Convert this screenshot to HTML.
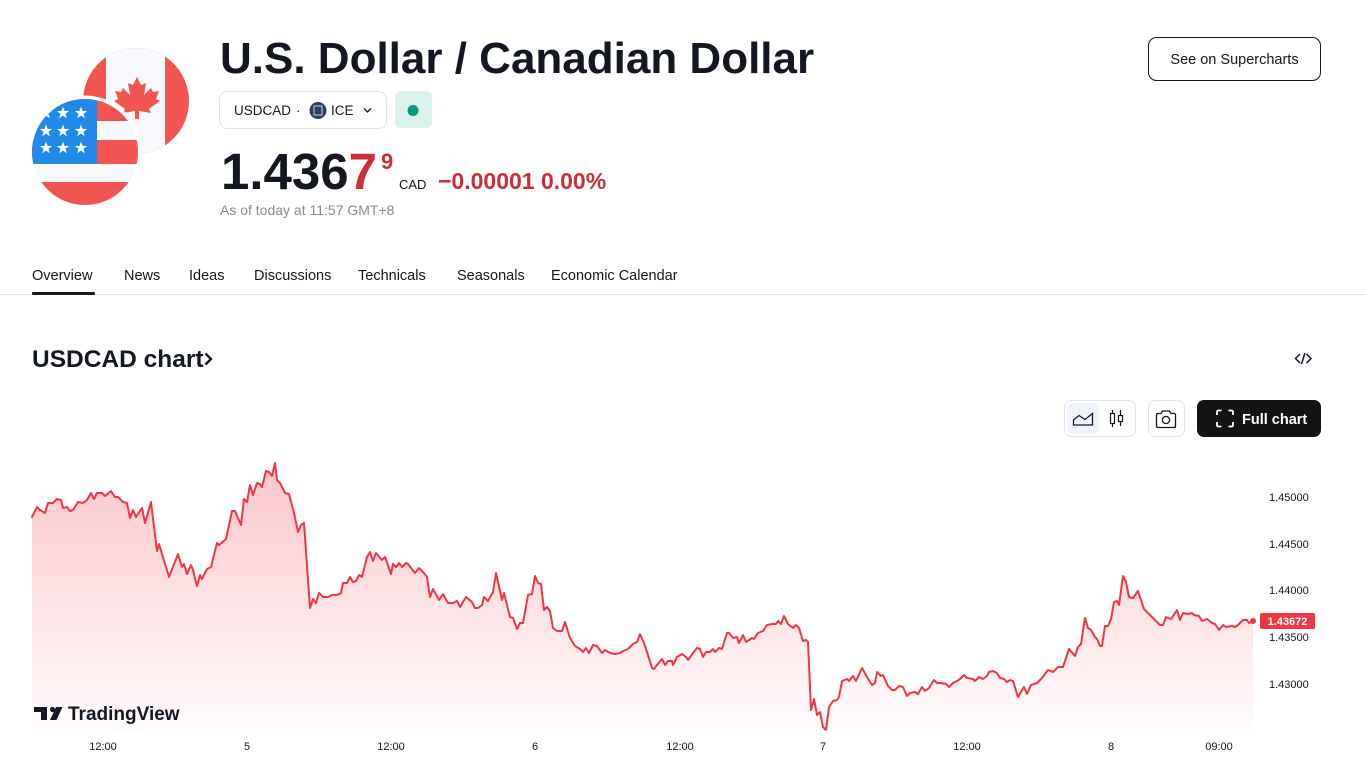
<!DOCTYPE html>
<html>
<head>
<meta charset="utf-8">
<style>
html,body{margin:0;padding:0;background:#fff;}
body{width:1365px;height:778px;overflow:hidden;}
svg{display:block;}
text{font-family:"Liberation Sans", sans-serif;}
</style>
</head>
<body>
<svg width="1365" height="778" viewBox="0 0 1365 778" xmlns="http://www.w3.org/2000/svg">
<defs>
  <clipPath id="caClip"><circle cx="136" cy="101" r="53"/></clipPath>
  <clipPath id="usClip"><circle cx="85" cy="152" r="53"/></clipPath>
  <polygon id="star" points="0,-6.5 1.53,-2.1 6.18,-2.01 2.47,0.8 3.82,5.26 0,2.6 -3.82,5.26 -2.47,0.8 -6.18,-2.01 -1.53,-2.1" fill="#ffffff"/>
  <linearGradient id="areaGrad" gradientUnits="userSpaceOnUse" x1="0" y1="463" x2="0" y2="730">
    <stop offset="0" stop-color="#f23645" stop-opacity="0.28"/>
    <stop offset="1" stop-color="#f23645" stop-opacity="0.02"/>
  </linearGradient>
</defs>

<!-- Canada flag -->
<g clip-path="url(#caClip)">
  <rect x="80" y="45" width="112" height="112" fill="#f05552"/>
  <rect x="106" y="45" width="59" height="112" fill="#f7f8fc"/>
  <polygon fill="#f05552" points="137,77 141,85 146,83 144,95 151,88 153,92 159,91 156,99 160,101 149,109 151,113 139,111 139,119 135,119 135,111 123,113 125,109 114,101 118,99 115,91 121,92 123,88 130,95 128,83 133,85"/>
</g>
<!-- US flag -->
<circle cx="85" cy="152" r="56.5" fill="#ffffff"/>
<g clip-path="url(#usClip)">
  <rect x="30" y="98" width="110" height="23" fill="#f05552"/>
  <rect x="30" y="121" width="110" height="19" fill="#f7f8fc"/>
  <rect x="30" y="140" width="110" height="24" fill="#f05552"/>
  <rect x="30" y="164" width="110" height="18" fill="#f7f8fc"/>
  <rect x="30" y="182" width="110" height="26" fill="#f05552"/>
  <rect x="30" y="98" width="67" height="66" fill="#2189e6"/>
  <use href="#star" x="46" y="113"/>
  <use href="#star" x="63" y="113"/>
  <use href="#star" x="81" y="113"/>
  <use href="#star" x="46" y="131"/>
  <use href="#star" x="63" y="131"/>
  <use href="#star" x="81" y="131"/>
  <use href="#star" x="46" y="148"/>
  <use href="#star" x="63" y="148"/>
  <use href="#star" x="81" y="148"/>
</g>

<!-- Title -->
<text x="220" y="73" font-size="44" font-weight="bold" fill="#131722">U.S. Dollar / Canadian Dollar</text>

<!-- Symbol pill -->
<rect x="219.5" y="91.5" width="167" height="37" rx="8" fill="#fff" stroke="#e0e3eb"/>
<text x="234" y="115" font-size="13.5" fill="#131722">USDCAD</text>
<text x="296" y="115" font-size="13.5" fill="#131722">·</text>
<circle cx="318" cy="110.5" r="8.5" fill="#2e3d63"/>
<rect x="314" y="106" width="8" height="9" fill="none" stroke="#c9d2ea" stroke-width="1"/>
<text x="331" y="115" font-size="13.5" fill="#131722">ICE</text>
<path d="M364,108.5 L367.5,112 L371,108.5" fill="none" stroke="#131722" stroke-width="1.3"/>
<rect x="395" y="91" width="37" height="37" rx="6" fill="#daf1ec"/>
<circle cx="413" cy="110.5" r="5.5" fill="#089981"/>

<!-- Price -->
<text x="221" y="189" font-size="51" font-weight="bold" fill="#131722">1.436<tspan fill="#cc2f3c">7</tspan></text>
<text x="381" y="169" font-size="22" font-weight="bold" fill="#cc2f3c">9</text>
<text x="399" y="189" font-size="13" fill="#131722">CAD</text>
<text x="438" y="189" font-size="23" font-weight="bold" fill="#cc2f3c">−0.00001 0.00%</text>
<text x="220" y="215" font-size="14" fill="#868993">As of today at 11:57 GMT+8</text>

<!-- See on Supercharts -->
<rect x="1148.5" y="37.5" width="172" height="43" rx="8" fill="#fff" stroke="#131722" stroke-width="1"/>
<text x="1234.5" y="64" font-size="14.5" fill="#131722" text-anchor="middle">See on Supercharts</text>

<!-- Tabs -->
<g font-size="14.5" fill="#131722">
  <text x="32" y="280">Overview</text>
  <text x="124" y="280">News</text>
  <text x="189" y="280">Ideas</text>
  <text x="254" y="280">Discussions</text>
  <text x="358" y="280">Technicals</text>
  <text x="457" y="280">Seasonals</text>
  <text x="551" y="280">Economic Calendar</text>
</g>
<rect x="0" y="294" width="1365" height="1" fill="#e0e3eb"/>
<rect x="32" y="292" width="63" height="3" rx="1" fill="#131722"/>

<!-- Section header -->
<text x="32" y="367" font-size="24.5" font-weight="bold" fill="#131722">USDCAD chart</text>
<path d="M205.5,353.5 L211,359 L205.5,364.5" fill="none" stroke="#131722" stroke-width="2.4"/>
<path d="M1300,354 L1295.5,358.5 L1300,363 M1305,353 L1301.5,364 M1306.5,354 L1311,358.5 L1306.5,363" fill="none" stroke="#131722" stroke-width="1.5"/>

<!-- Toolbar -->
<rect x="1064.5" y="400.5" width="71" height="36" rx="7" fill="#fff" stroke="#e0e3eb"/>
<rect x="1067" y="403" width="32" height="31" rx="5" fill="#f0f3fa"/>
<path d="M1073.5,425 L1073.5,420 L1079,415.5 L1085,419.5 L1092.5,413.5 L1092.5,425 Z" fill="none" stroke="#131722" stroke-width="1.3"/>
<path d="M1112.5,410 L1112.5,427 M1120.5,410 L1120.5,426" stroke="#131722" stroke-width="1.2"/>
<rect x="1110.5" y="413.5" width="4" height="10" fill="#fff" stroke="#131722" stroke-width="1.2"/>
<rect x="1118.5" y="415.5" width="4" height="6" fill="#fff" stroke="#131722" stroke-width="1.2"/>
<rect x="1148.5" y="400.5" width="36" height="36" rx="7" fill="#fff" stroke="#e0e3eb"/>
<path d="M1156.5,415 Q1156.5,413.5 1158,413.5 L1161,413.5 L1162.5,411 L1169.5,411 L1171,413.5 L1174,413.5 Q1175.5,413.5 1175.5,415 L1175.5,426 Q1175.5,427.5 1174,427.5 L1158,427.5 Q1156.5,427.5 1156.5,426 Z" fill="none" stroke="#131722" stroke-width="1.3"/>
<circle cx="1166" cy="420" r="3.6" fill="none" stroke="#131722" stroke-width="1.3"/>
<rect x="1197" y="400" width="124" height="37" rx="7" fill="#131313"/>
<path d="M1217,415 L1217,412 Q1217,410.5 1218.5,410.5 L1221.5,410.5 M1228.5,410.5 L1231.5,410.5 Q1233,410.5 1233,412 L1233,415 M1233,422 L1233,425 Q1233,426.5 1231.5,426.5 L1228.5,426.5 M1221.5,426.5 L1218.5,426.5 Q1217,426.5 1217,425 L1217,422" fill="none" stroke="#ffffff" stroke-width="1.8"/>
<text x="1242" y="424" font-size="14.5" font-weight="bold" fill="#ffffff">Full chart</text>

<!-- Chart area -->
<polygon fill="url(#areaGrad)" points="32,730 32,517 37,507 40,510 45,513 48,503 53,503 57,499 61,500 63,508 67,507 70,511 73,510 78,502 83,503 87,500 91,493 94,499 97,493 102,493 105,496 111,491 115,497 118,497 123,502 127,503 130,518 133,510 136,517 142,508 145,523 151,502 157,551 159,544 169,577 178,554 182,567 184,564 187,574 191,565 193,570 197,586 200,575 202,579 207,569 211,567 217,543 219,545 226,539 232,511 235,511 241,525 244,499 247,502 250,485 253,495 257,483 260,484 262,487 266,471 269,472 272,476 275,463 277,480 280,483 285,493 289,494 294,513 298,532 301,525 304,523 310,608 313,599 316,603 319,593 323,597 328,597 332,595 337,595 341,593 343,583 347,583 350,577 353,582 356,581 359,575 362,577 367,557 370,552 373,561 376,553 382,560 385,557 391,574 393,564 396,567 399,563 402,567 406,563 408,564 415,573 419,568 423,572 427,577 430,597 433,589 439,600 443,594 448,603 453,603 457,601 460,607 466,597 472,602 475,608 478,608 482,605 484,597 488,601 493,592 496,573 502,600 504,593 510,617 513,618 517,629 520,623 523,623 528,595 532,594 535,576 538,583 541,584 544,610 547,607 550,611 553,628 557,631 562,631 565,622 570,638 575,646 580,649 583,652 586,648 589,653 593,645 597,646 602,653 605,650 610,653 615,654 620,653 623,651 628,649 633,644 637,642 640,634 644,643 647,652 652,668 654,669 657,665 662,659 665,665 668,661 672,661 673,665 677,657 682,654 686,657 688,660 693,653 697,648 700,649 703,657 706,652 710,652 713,649 715,652 719,648 722,649 727,633 729,633 733,638 737,637 739,643 743,635 746,642 752,638 754,639 758,633 763,631 767,625 772,624 776,624 778,621 781,624 784,616 788,624 793,628 796,625 799,628 803,641 806,640 808,642 811,710 814,699 817,715 820,712 823,727 826,730 829,707 833,701 837,700 839,697 842,681 847,679 849,681 853,676 856,681 862,668 867,677 872,685 875,683 877,672 881,676 883,675 888,686 892,690 895,690 899,686 903,687 907,696 910,693 915,692 918,694 922,687 925,691 929,688 934,680 937,683 941,683 946,684 949,687 953,683 957,681 960,679 964,675 967,678 973,679 975,681 979,677 983,679 987,676 989,672 993,671 997,673 1000,678 1004,679 1007,682 1010,680 1013,681 1018,697 1024,687 1027,694 1031,685 1037,683 1042,678 1048,670 1053,672 1058,667 1063,667 1069,649 1075,656 1078,647 1081,644 1085,618 1088,628 1091,630 1095,637 1097,639 1100,646 1102,646 1105,626 1108,626 1111,619 1114,602 1117,601 1119,605 1123,576 1126,582 1129,597 1133,598 1138,591 1144,609 1153,618 1160,625 1163,625 1166,617 1171,619 1177,610 1180,620 1183,613 1188,614 1192,613 1194,615 1199,616 1202,621 1207,619 1212,623 1215,624 1219,630 1223,625 1226,627 1232,626 1235,627 1238,625 1243,620 1247,620 1249,623 1253,621 1253,730"/>
<polyline fill="none" stroke="#f23645" stroke-width="2" stroke-linejoin="round" stroke-linecap="round" points="32,517 37,507 40,510 45,513 48,503 53,503 57,499 61,500 63,508 67,507 70,511 73,510 78,502 83,503 87,500 91,493 94,499 97,493 102,493 105,496 111,491 115,497 118,497 123,502 127,503 130,518 133,510 136,517 142,508 145,523 151,502 157,551 159,544 169,577 178,554 182,567 184,564 187,574 191,565 193,570 197,586 200,575 202,579 207,569 211,567 217,543 219,545 226,539 232,511 235,511 241,525 244,499 247,502 250,485 253,495 257,483 260,484 262,487 266,471 269,472 272,476 275,463 277,480 280,483 285,493 289,494 294,513 298,532 301,525 304,523 310,608 313,599 316,603 319,593 323,597 328,597 332,595 337,595 341,593 343,583 347,583 350,577 353,582 356,581 359,575 362,577 367,557 370,552 373,561 376,553 382,560 385,557 391,574 393,564 396,567 399,563 402,567 406,563 408,564 415,573 419,568 423,572 427,577 430,597 433,589 439,600 443,594 448,603 453,603 457,601 460,607 466,597 472,602 475,608 478,608 482,605 484,597 488,601 493,592 496,573 502,600 504,593 510,617 513,618 517,629 520,623 523,623 528,595 532,594 535,576 538,583 541,584 544,610 547,607 550,611 553,628 557,631 562,631 565,622 570,638 575,646 580,649 583,652 586,648 589,653 593,645 597,646 602,653 605,650 610,653 615,654 620,653 623,651 628,649 633,644 637,642 640,634 644,643 647,652 652,668 654,669 657,665 662,659 665,665 668,661 672,661 673,665 677,657 682,654 686,657 688,660 693,653 697,648 700,649 703,657 706,652 710,652 713,649 715,652 719,648 722,649 727,633 729,633 733,638 737,637 739,643 743,635 746,642 752,638 754,639 758,633 763,631 767,625 772,624 776,624 778,621 781,624 784,616 788,624 793,628 796,625 799,628 803,641 806,640 808,642 811,710 814,699 817,715 820,712 823,727 826,730 829,707 833,701 837,700 839,697 842,681 847,679 849,681 853,676 856,681 862,668 867,677 872,685 875,683 877,672 881,676 883,675 888,686 892,690 895,690 899,686 903,687 907,696 910,693 915,692 918,694 922,687 925,691 929,688 934,680 937,683 941,683 946,684 949,687 953,683 957,681 960,679 964,675 967,678 973,679 975,681 979,677 983,679 987,676 989,672 993,671 997,673 1000,678 1004,679 1007,682 1010,680 1013,681 1018,697 1024,687 1027,694 1031,685 1037,683 1042,678 1048,670 1053,672 1058,667 1063,667 1069,649 1075,656 1078,647 1081,644 1085,618 1088,628 1091,630 1095,637 1097,639 1100,646 1102,646 1105,626 1108,626 1111,619 1114,602 1117,601 1119,605 1123,576 1126,582 1129,597 1133,598 1138,591 1144,609 1153,618 1160,625 1163,625 1166,617 1171,619 1177,610 1180,620 1183,613 1188,614 1192,613 1194,615 1199,616 1202,621 1207,619 1212,623 1215,624 1219,630 1223,625 1226,627 1232,626 1235,627 1238,625 1243,620 1247,620 1249,623 1253,621"/>
<circle cx="1253" cy="621" r="3" fill="#f23645"/>

<!-- TradingView watermark -->
<rect x="34" y="707" width="13" height="5" fill="#131722"/>
<rect x="41" y="707" width="6" height="13" fill="#131722"/>
<circle cx="52.5" cy="709.5" r="2.6" fill="#131722"/>
<polygon points="56,707 62.5,707 56.5,720 50,720" fill="#131722"/>
<text x="68" y="720" font-size="19" font-weight="bold" fill="#131722">TradingView</text>

<!-- Y axis -->
<g font-size="11" fill="#131722">
  <text x="1269" y="501">1.45000</text>
  <text x="1269" y="548">1.44500</text>
  <text x="1269" y="594">1.44000</text>
  <text x="1269" y="641">1.43500</text>
  <text x="1269" y="688">1.43000</text>
</g>
<rect x="1260" y="613" width="55" height="16" rx="2" fill="#f23645"/>
<text x="1287.5" y="625" font-size="11" font-weight="bold" fill="#ffffff" text-anchor="middle">1.43672</text>

<!-- X axis -->
<g font-size="11" fill="#131722" text-anchor="middle">
  <text x="103" y="750">12:00</text>
  <text x="247" y="750">5</text>
  <text x="391" y="750">12:00</text>
  <text x="535" y="750">6</text>
  <text x="680" y="750">12:00</text>
  <text x="823" y="750">7</text>
  <text x="967" y="750">12:00</text>
  <text x="1111" y="750">8</text>
  <text x="1219" y="750">09:00</text>
</g>
</svg>
</body>
</html>
